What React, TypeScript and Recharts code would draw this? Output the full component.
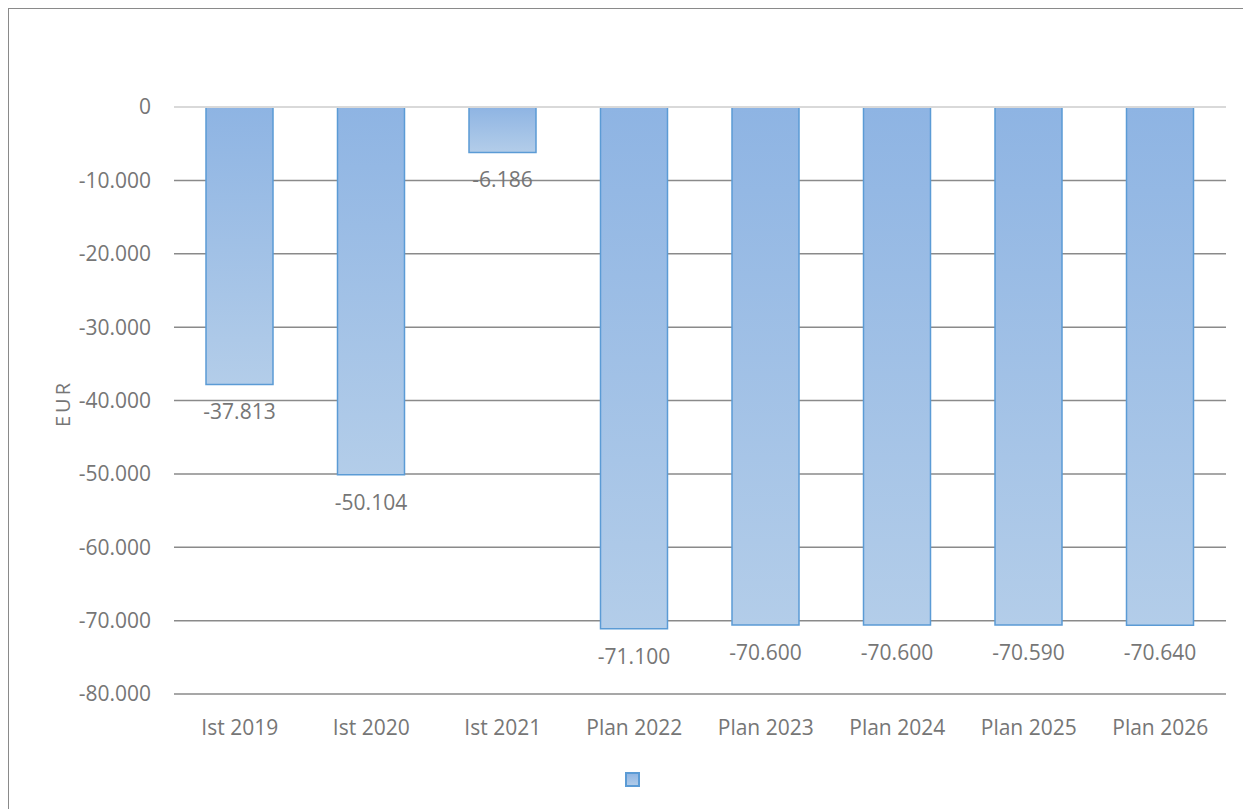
import React from 'react';
import {
  BarChart,
  Bar,
  XAxis,
  YAxis,
  CartesianGrid,
  ReferenceLine,
  LabelList,
} from 'recharts';

const categories = [
  'Ist 2019',
  'Ist 2020',
  'Ist 2021',
  'Plan 2022',
  'Plan 2023',
  'Plan 2024',
  'Plan 2025',
  'Plan 2026',
];
const values = [-37813, -50104, -6186, -71100, -70600, -70600, -70590, -70640];
const yTicks = [0, -10000, -20000, -30000, -40000, -50000, -60000, -70000, -80000];

const data = categories.map((name, i) => ({ name, value: values[i] }));

const FONT = '"Open Sans", sans-serif';
const TEXT = '#767676';

// 1.234 style thousands separator
const fmt = (v: number) => {
  const s = Math.abs(v)
    .toString()
    .replace(/\B(?=(\d{3})+(?!\d))/g, '.');
  return v < 0 ? `-${s}` : s;
};

const ValueLabel = (props: any) => {
  const { x, y, width, height, value } = props;
  const bottom = Math.max(Number(y), Number(y) + Number(height));
  return (
    <text
      x={Number(x) + Number(width) / 2}
      y={bottom + 35}
      textAnchor='middle'
      fill={TEXT}
      fontSize={21}
      fontFamily={FONT}
    >
      {fmt(value)}
    </text>
  );
};

const AxisTitle = (props: any) => {
  const { viewBox } = props;
  const cx = 54;
  const cy = viewBox.y + viewBox.height / 2 + 3;
  return (
    <text
      x={cx}
      y={cy}
      transform={`rotate(-90, ${cx}, ${cy})`}
      textAnchor='middle'
      dominantBaseline='central'
      fill={TEXT}
      fontSize={20}
      fontFamily={FONT}
      style={{ letterSpacing: 3 }}
    >
      EUR
    </text>
  );
};

const App: React.FC = () => {
  return (
    <div style={{ width: 1243, height: 801, overflow: 'hidden', position: 'relative' }}>
      <div
        style={{
          position: 'absolute',
          left: 0,
          top: 0,
          width: 1300,
          height: 900,
          border: '1.5px solid #8a8a8a',
          boxSizing: 'border-box',
        }}
      />
      <BarChart
        width={1243}
        height={801}
        data={data}
        margin={{ top: 99, right: 25, left: 0, bottom: 0 }}
        style={{ position: 'absolute', left: 0, top: 0 }}
      >
        <defs>
          <linearGradient id='barFill' x1='0' y1='0' x2='0' y2='1'>
            <stop offset='0%' stopColor='#8eb4e3' />
            <stop offset='100%' stopColor='#b3cde9' />
          </linearGradient>
        </defs>
        <CartesianGrid vertical={false} stroke='#8a8a8a' strokeWidth={1.5} />
        <ReferenceLine y={0} stroke='#d9d9d9' strokeWidth={2} />
        <XAxis
          dataKey='name'
          axisLine={false}
          tickLine={false}
          tickSize={0}
          tickMargin={26}
          height={115}
          interval={0}
          tick={{ fill: TEXT, fontSize: 21, fontFamily: FONT }}
        />
        <YAxis
          type='number'
          domain={[-80000, 0]}
          ticks={yTicks}
          axisLine={false}
          tickLine={false}
          tickSize={0}
          tickMargin={23}
          width={166}
          tickFormatter={fmt}
          tick={{ fill: TEXT, fontSize: 21, fontFamily: FONT }}
          label={<AxisTitle />}
        />
        <Bar
          dataKey='value'
          barSize={67}
          fill='url(#barFill)'
          stroke='#5b9bd5'
          strokeWidth={1.5}
          isAnimationActive={false}
        >
          <LabelList dataKey='value' content={ValueLabel} />
        </Bar>
      </BarChart>
      <svg
        width={16}
        height={16}
        style={{ position: 'absolute', left: 617, top: 764 }}
      >
        <defs>
          <linearGradient id='legFill' x1='0' y1='0' x2='0' y2='1'>
            <stop offset='0%' stopColor='#8eb4e3' />
            <stop offset='100%' stopColor='#b3cde9' />
          </linearGradient>
        </defs>
        <rect x={1} y={1} width={13} height={13} fill='url(#legFill)' stroke='#5b9bd5' strokeWidth={2} />
      </svg>
    </div>
  );
};

export default App;
